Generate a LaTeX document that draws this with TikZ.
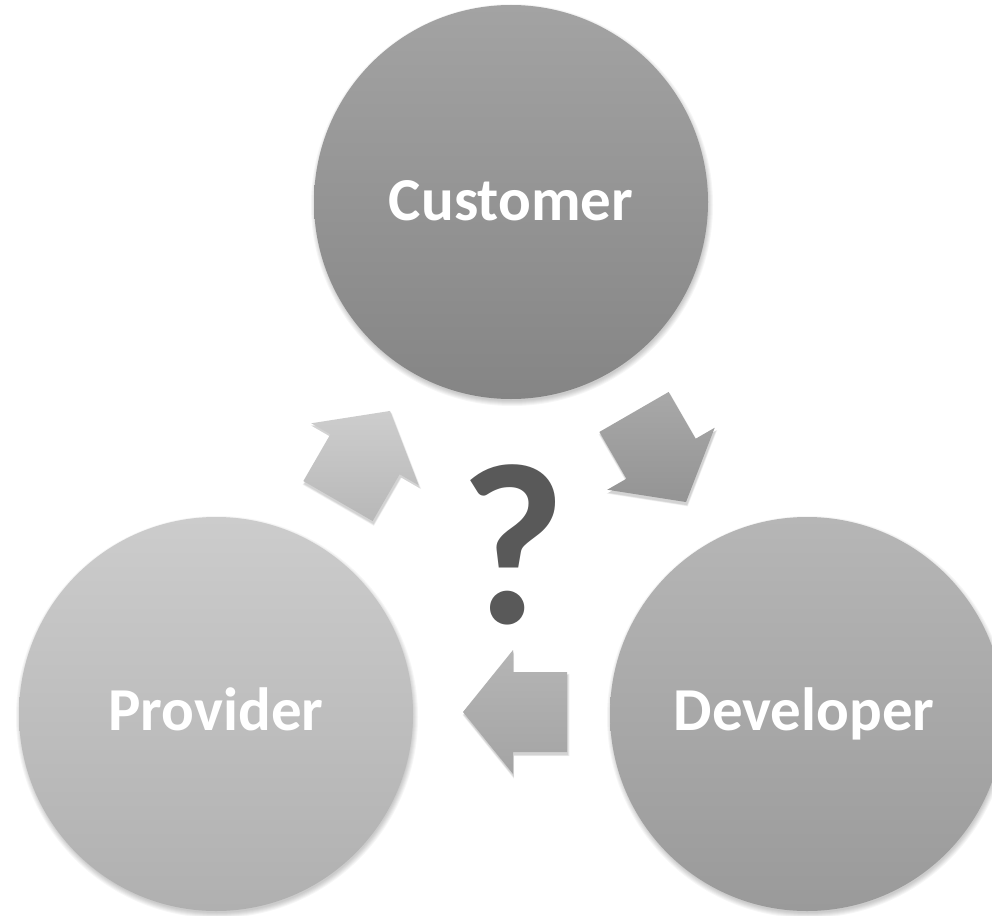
\documentclass[tikz,border=0pt]{standalone}
\usepackage{fontspec}
\setmainfont{Carlito}
\definecolor{custA}{HTML}{A3A3A3}
\definecolor{custB}{HTML}{858585}
\definecolor{provA}{HTML}{CCCCCC}
\definecolor{provB}{HTML}{B0B0B0}
\definecolor{devA}{HTML}{B6B6B6}
\definecolor{devB}{HTML}{9A9A9A}
\definecolor{arrUA}{HTML}{CDCDCD}
\definecolor{arrUB}{HTML}{B8B8B8}
\definecolor{arrRA}{HTML}{A8A8A8}
\definecolor{arrRB}{HTML}{949494}
\definecolor{arrBA}{HTML}{B5B5B5}
\definecolor{arrBB}{HTML}{A4A4A4}
\definecolor{qmark}{HTML}{595959}
\begin{document}
\begin{tikzpicture}[x=1pt,y=1pt,
  disc/.style={circle, minimum size=394pt, inner sep=0pt},
  lbl/.style={text=white, anchor=base, inner sep=0pt,
    font=\fontsize{61}{72}\selectfont\bfseries},
  shadowlayer/.style={black, opacity=0.035}]
\useasboundingbox (0,0) rectangle (992,-915);
\clip (0,0) rectangle (992,-915);
\fill[white] (0,0) rectangle (992,-915);

% soft shadows under the three discs
\foreach \cx/\cy in {511/-202, 216/-714, 807/-714} {
  \foreach \k in {0,...,5}
    \fill[shadowlayer] (\cx+1,\cy-3) circle[radius={(201-\k)*1pt}];
}

% the three discs
\node[disc, top color=custA, bottom color=custB] (customer) at (511,-202) {};
\node[disc, top color=provA, bottom color=provB] (provider) at (216,-714) {};
\node[disc, top color=devA, bottom color=devB] (developer) at (807,-714) {};

\node[lbl] (customerlbl) at (511,-220) {Customer};
\node[lbl] (providerlbl) at (216,-730) {Provider};
\node[lbl] (developerlbl) at (804,-730) {Developer};

% block arrows of the cycle
\foreach \ang/\px/\py/\ca/\cb in {60/364/-456/arrUA/arrUB,
                                 -60/660/-457/arrRA/arrRB,
                                 180/515/-712/arrBA/arrBB} {
  \foreach \k in {0,...,4}
    \fill[shadowlayer, shift={(\px+1,\py-3)}, rotate=\ang, scale={1.03-\k*0.008}]
      (-52,-40) -- (2,-40) -- (2,-62) -- (52,0) -- (2,62) -- (2,40) -- (-52,40) -- cycle;
  \shade[shift={(\px,\py)}, rotate=\ang, top color=\ca, bottom color=\cb]
    (-52,-40) -- (2,-40) -- (2,-62) -- (52,0) -- (2,62) -- (2,40) -- (-52,40) -- cycle;
}

% central question mark
\node[text=qmark, anchor=base, inner sep=0pt,
  font=\fontsize{230}{230}\selectfont\bfseries] (question) at (513,-623) {?};
\end{tikzpicture}
\end{document}
